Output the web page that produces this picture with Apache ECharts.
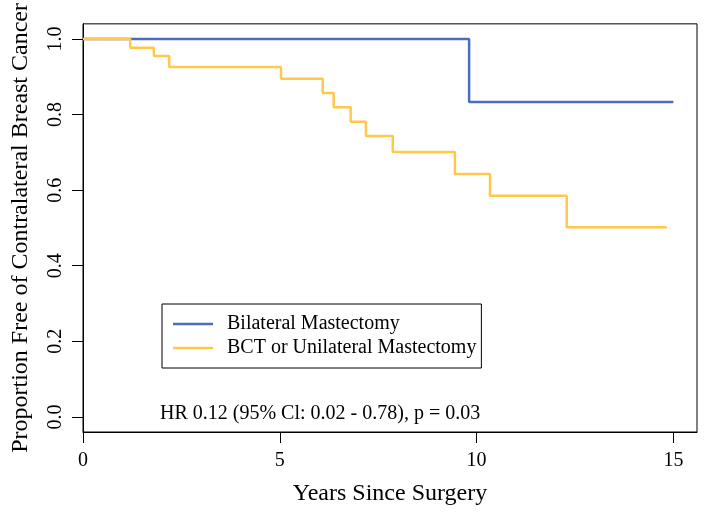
<!DOCTYPE html>
<html>
<head>
<meta charset="utf-8">
<script src="https://cdn.jsdelivr.net/npm/echarts@6/dist/echarts.min.js"></script>
<style>html,body{margin:0;padding:0;background:#fff}#c{width:704px;height:515px}</style>
</head>
<body>
<div id="c"></div>
<script>
// Data
var seriesNames = ['Bilateral Mastectomy', 'BCT or Unilateral Mastectomy'];
var bilateralTimes = [0, 9.81, 15.0];
var bilateralSurv  = [1.0, 0.833, 0.833];
var bctTimes = [0, 1.20, 1.80, 2.19, 5.03, 6.09, 6.37, 6.80, 7.19, 7.87, 9.45, 10.34, 12.29, 14.83];
var bctSurv  = [1.0, 0.977, 0.955, 0.926, 0.895, 0.857, 0.819, 0.781, 0.743, 0.701, 0.643, 0.585, 0.502, 0.502];
var xTicks = [0, 5, 10, 15];
var yTicks = [0.0, 0.2, 0.4, 0.6, 0.8, 1.0];
var annotation = 'HR 0.12 (95% Cl: 0.02 - 0.78), p = 0.03';

function pairs(t, s){ return t.map(function(v,i){ return [v, s[i]]; }); }

var FONT = 'Liberation Serif';
var chart = echarts.init(document.getElementById('c'), null, {renderer:'canvas'});
chart.setOption({
  backgroundColor: '#fff',
  animation: false,
  textStyle: {fontFamily: FONT, color: '#000'},
  grid: {left: 83, right: 7, top: 23, bottom: 83, show: true, borderColor: '#000', borderWidth: 1, backgroundColor: 'transparent'},
  xAxis: {
    type: 'value', min: 0, max: 15.6,
    name: 'Years Since Surgery', nameLocation: 'middle', nameGap: 50,
    nameTextStyle: {fontFamily: FONT, fontSize: 24, color: '#000'},
    axisLine: {show: true, onZero: false, lineStyle: {color: '#000', width: 1}},
    axisTick: {show: true, inside: false, length: 11, lineStyle: {color: '#000'}, customValues: xTicks},
    axisLabel: {fontFamily: FONT, fontSize: 20, color: '#000', margin: 19, customValues: xTicks},
    splitLine: {show: false}
  },
  yAxis: {
    type: 'value', min: -0.04, max: 1.04,
    name: 'Proportion Free of Contralateral Breast Cancer', nameLocation: 'middle', nameGap: 50, nameRotate: 90,
    nameTextStyle: {fontFamily: FONT, fontSize: 24, color: '#000'},
    axisLine: {show: true, onZero: false, lineStyle: {color: '#000', width: 1}},
    axisTick: {show: true, inside: false, length: 11, lineStyle: {color: '#000'}, customValues: yTicks},
    axisLabel: {fontFamily: FONT, fontSize: 20, color: '#000', margin: 17, rotate: 90,
      customValues: yTicks, formatter: function(v){ return v.toFixed(1); }},
    splitLine: {show: false}
  },
  legend: {
    orient: 'vertical', left: 162, top: 304,
    data: seriesNames,
    icon: 'rect', itemWidth: 40, itemHeight: 2.5, itemGap: 2,
    padding: [9, 5, 9, 11],
    borderColor: '#000', borderWidth: 1,
    textStyle: {fontFamily: FONT, fontSize: 20, color: '#000', padding: [0,0,0,9], lineHeight: 22}
  },
  graphic: [{
    type: 'text', left: 160, top: 404,
    style: {text: annotation, fontFamily: FONT, fontSize: 20, fill: '#000'}
  }],
  series: [
    {name: seriesNames[0], type: 'line', step: 'end', showSymbol: false, symbol: 'none', z: 2,
     data: pairs(bilateralTimes, bilateralSurv), lineStyle: {color: '#4A6DBE', width: 2.5}, itemStyle: {color: '#4A6DBE'}},
    {name: seriesNames[1], type: 'line', step: 'end', showSymbol: false, symbol: 'none', z: 3,
     data: pairs(bctTimes, bctSurv), lineStyle: {color: '#FFC84A', width: 2.5}, itemStyle: {color: '#FFC84A'}}
  ]
});
</script>
</body>
</html>
